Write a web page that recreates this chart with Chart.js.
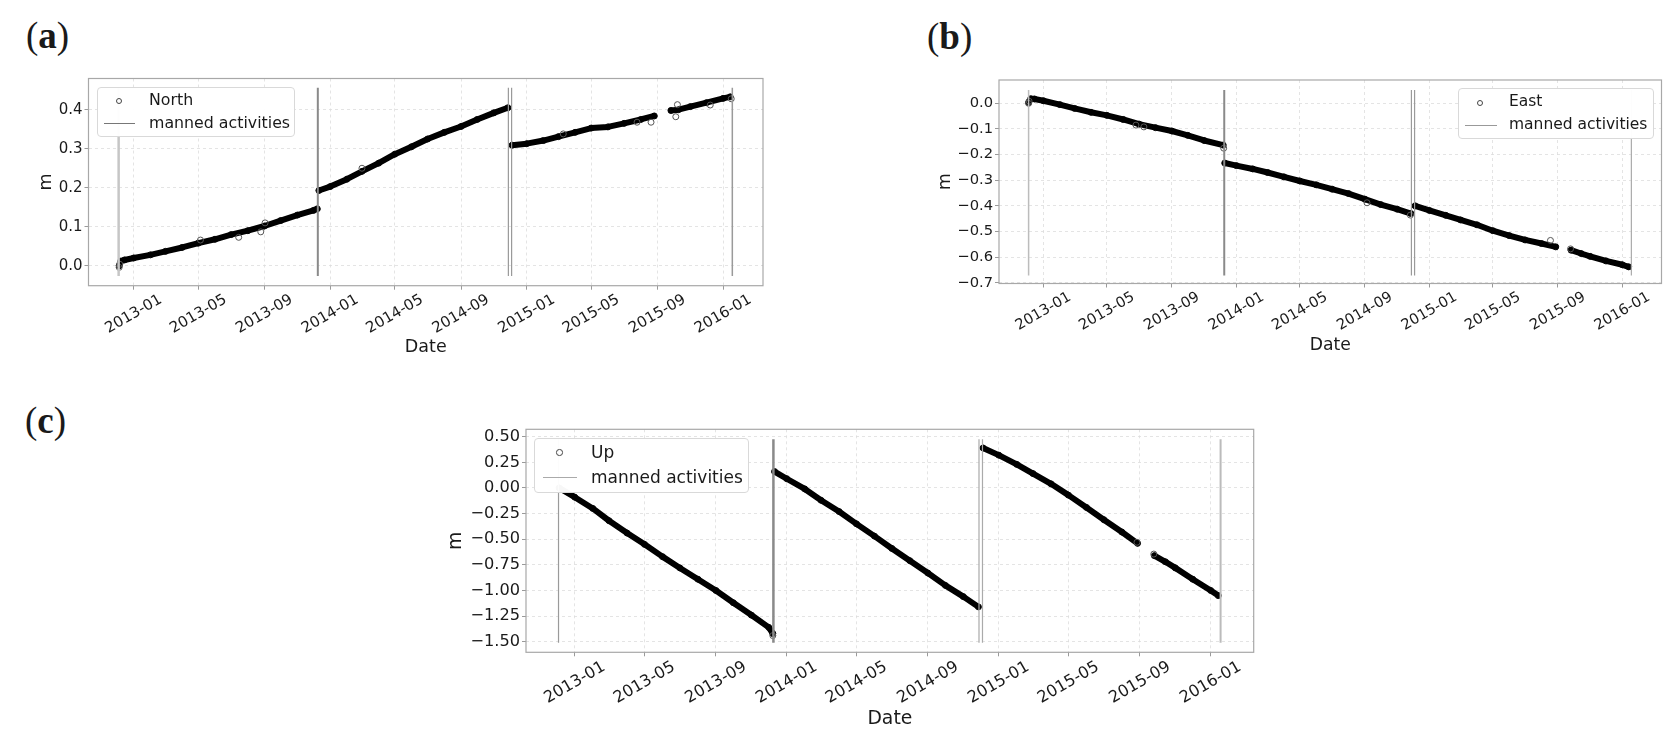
<!DOCTYPE html>
<html>
<head>
<meta charset="utf-8">
<script src="https://cdn.jsdelivr.net/npm/chart.js@4.4.0/dist/chart.umd.min.js"></script>
<style>
  body { margin: 0; background: #fff; }
  #page { position: relative; width: 1677px; height: 741px; overflow: hidden; font-family: "DejaVu Sans", sans-serif; color: #1a1a1a; }
  canvas { position: absolute; }
  .panel-label { position: absolute; font-family: "Liberation Serif", serif; font-size: 37px; line-height: 1; }
  .legend { position: absolute; background: rgba(255,255,255,0.97); border: 1px solid #d9d9d9; border-radius: 4px; box-sizing: border-box; }
  .legend .mk { position: absolute; border: 1px solid #444; border-radius: 50%; box-sizing: border-box; }
  .legend .ln { position: absolute; height: 0; }
  .legend .tx { position: absolute; white-space: nowrap; line-height: 1; transform: translateY(-50%); }
</style>
</head>
<body>
<div id="page">
  <div class="panel-label" style="left:26px;top:17px">(<b>a</b>)</div>
  <div class="panel-label" style="left:927px;top:18px">(<b>b</b>)</div>
  <div class="panel-label" style="left:25px;top:402px">(<b>c</b>)</div>

  <canvas id="north" width="790" height="372" style="left:0;top:0"></canvas>
  <canvas id="east" width="777" height="372" style="left:900px;top:0"></canvas>
  <canvas id="up" width="880" height="361" style="left:400px;top:380px"></canvas>

  <div class="legend" style="left:97px;top:87px;width:198px;height:50px;font-size:15.8px">
    <div class="mk" style="left:18px;top:10px;width:6px;height:6px"></div>
    <div class="tx" style="left:51px;top:12px">North</div>
    <div class="ln" style="left:6px;top:35px;width:31px;border-top:1.5px solid #777"></div>
    <div class="tx" style="left:51px;top:35px">manned activities</div>
  </div>
  <div class="legend" style="left:1458px;top:88px;width:196px;height:51px;font-size:15.5px">
    <div class="mk" style="left:18px;top:11px;width:6px;height:6px"></div>
    <div class="tx" style="left:50px;top:13px">East</div>
    <div class="ln" style="left:6px;top:36px;width:32px;border-top:1.5px solid #999"></div>
    <div class="tx" style="left:50px;top:36px">manned activities</div>
  </div>
  <div class="legend" style="left:534px;top:438px;width:215px;height:55px;font-size:17px">
    <div class="mk" style="left:21px;top:10px;width:6.5px;height:6.5px"></div>
    <div class="tx" style="left:56px;top:13px">Up</div>
    <div class="ln" style="left:8px;top:38px;width:34px;border-top:1.5px solid #aaa"></div>
    <div class="tx" style="left:56px;top:38px">manned activities</div>
  </div>
</div>

<script>
// shared axis data
const dateRange = ['2012-10-09', '2016-03-15'];
const xTickLabels = ['2013-01', '2013-05', '2013-09', '2014-01', '2014-05', '2014-09', '2015-01', '2015-05', '2015-09', '2016-01'];
const mannedDates = ['2012-12-04', '2013-12-09', '2014-11-28', '2014-12-04', '2016-01-18'];

// (a) North
const northDates = [
    '2012-12-05', '2012-12-08', '2012-12-15', '2013-01-01', '2013-02-01', '2013-03-01', '2013-04-01', '2013-05-01',
    '2013-06-01', '2013-07-01', '2013-08-01', '2013-09-01', '2013-10-01', '2013-11-01', '2013-12-01', '2013-12-08',
    '2013-12-09',
    '2013-12-11', '2014-01-01', '2014-02-01', '2014-03-01', '2014-04-01', '2014-05-01', '2014-06-01', '2014-07-01',
    '2014-08-01', '2014-09-01', '2014-10-01', '2014-11-01', '2014-11-27',
    '2014-12-01',
    '2014-12-05', '2015-01-01', '2015-02-01', '2015-03-01', '2015-04-01', '2015-05-01', '2015-06-01', '2015-07-01',
    '2015-08-01', '2015-08-26',
    '2015-09-12',
    '2015-09-26', '2015-10-10', '2015-11-01', '2015-12-01', '2016-01-01', '2016-01-14'
];
const northValues = [
    0.000, 0.012, 0.015, 0.020, 0.028, 0.037, 0.047, 0.058,
    0.068, 0.080, 0.090, 0.102, 0.116, 0.130, 0.142, 0.146,
    null,
    0.193, 0.203, 0.222, 0.242, 0.263, 0.286, 0.305, 0.325,
    0.342, 0.357, 0.375, 0.392, 0.405,
    null,
    0.309, 0.313, 0.321, 0.331, 0.342, 0.353, 0.356, 0.365,
    0.375, 0.384,
    null,
    0.398, 0.400, 0.408, 0.418, 0.429, 0.433
];
const northOutlierDates = ['2012-12-05', '2012-12-06', '2013-05-05', '2013-07-15', '2013-08-25', '2013-09-02', '2014-03-01',
    '2015-03-10', '2015-07-25', '2015-08-20', '2015-10-05', '2015-10-08', '2015-12-08', '2016-01-16'];
const northOutlierValues = [-0.004, 0.004, 0.066, 0.073, 0.087, 0.110, 0.250, 0.338, 0.368, 0.368, 0.382, 0.413, 0.412, 0.428];
const northTicks = [0.0, 0.1, 0.2, 0.3, 0.4];
const northTickLabels = ['0.0', '0.1', '0.2', '0.3', '0.4'];
const northRange = [-0.051, 0.48];
const northLineRange = [-0.026, 0.456];

// (b) East
const eastDates = [
    '2012-12-04', '2012-12-08', '2012-12-15', '2013-01-01', '2013-02-01', '2013-03-01', '2013-04-01', '2013-05-01',
    '2013-06-01', '2013-07-01', '2013-08-01', '2013-09-01', '2013-10-01', '2013-11-01', '2013-12-07',
    '2013-12-09',
    '2013-12-10', '2014-01-01', '2014-02-01', '2014-03-01', '2014-04-01', '2014-05-01', '2014-06-01', '2014-07-01',
    '2014-08-01', '2014-09-01', '2014-10-01', '2014-11-01', '2014-11-27',
    '2014-12-01',
    '2014-12-05', '2015-01-01', '2015-02-01', '2015-03-01', '2015-04-01', '2015-05-01', '2015-06-01', '2015-07-01',
    '2015-08-01', '2015-08-28',
    '2015-09-12',
    '2015-09-26', '2015-10-15', '2015-11-01', '2015-12-01', '2016-01-01', '2016-01-13'
];
const eastValues = [
    0.003, 0.018, 0.017, 0.010, -0.005, -0.020, -0.035, -0.047,
    -0.063, -0.081, -0.095, -0.108, -0.125, -0.145, -0.163,
    null,
    -0.233, -0.243, -0.256, -0.270, -0.287, -0.303, -0.318, -0.335,
    -0.352, -0.374, -0.395, -0.413, -0.430,
    null,
    -0.400, -0.418, -0.437, -0.455, -0.474, -0.497, -0.516, -0.533,
    -0.547, -0.560,
    null,
    -0.573, -0.586, -0.597, -0.615, -0.630, -0.638
];
const eastOutlierDates = ['2012-12-04', '2012-12-05', '2013-06-25', '2013-07-10', '2013-12-08', '2014-09-05', '2014-11-26', '2015-08-18', '2015-09-25'];
const eastOutlierValues = [0.000, 0.008, -0.085, -0.092, -0.175, -0.388, -0.436, -0.535, -0.568];
const eastTicks = [0.0, -0.1, -0.2, -0.3, -0.4, -0.5, -0.6, -0.7];
const eastTickLabels = ['0.0', '\u22120.1', '\u22120.2', '\u22120.3', '\u22120.4', '\u22120.5', '\u22120.6', '\u22120.7'];
const eastRange = [-0.703, 0.091];
const eastLineRange = [-0.672, 0.052];

// (c) Up
const upDates = [
    '2012-12-05', '2013-01-01', '2013-02-01', '2013-03-01', '2013-04-01', '2013-05-01', '2013-06-01', '2013-07-01',
    '2013-08-01', '2013-09-01', '2013-10-01', '2013-11-01', '2013-12-01', '2013-12-08',
    '2013-12-09',
    '2013-12-11', '2014-01-01', '2014-02-01', '2014-03-01', '2014-04-01', '2014-05-01', '2014-06-01', '2014-07-01',
    '2014-08-01', '2014-09-01', '2014-10-01', '2014-11-01', '2014-11-27',
    '2014-12-01',
    '2014-12-05', '2015-01-01', '2015-02-01', '2015-03-01', '2015-04-01', '2015-05-01', '2015-06-01', '2015-07-01',
    '2015-08-01', '2015-08-28',
    '2015-09-12',
    '2015-09-26', '2015-10-15', '2015-11-01', '2015-12-01', '2016-01-01', '2016-01-14'
];
const upValues = [
    0.00, -0.09, -0.20, -0.32, -0.44, -0.55, -0.67, -0.78,
    -0.89, -1.00, -1.12, -1.24, -1.36, -1.42,
    null,
    0.16, 0.09, -0.01, -0.12, -0.23, -0.35, -0.47, -0.59,
    -0.71, -0.83, -0.95, -1.06, -1.16,
    null,
    0.39, 0.32, 0.23, 0.14, 0.04, -0.07, -0.19, -0.31,
    -0.43, -0.54,
    null,
    -0.66, -0.72, -0.78, -0.89, -1.00, -1.05
];
const upOutlierDates = ['2013-12-08', '2015-08-27', '2015-09-25'];
const upOutlierValues = [-1.44, -0.53, -0.645];
const upTicks = [0.5, 0.25, 0.0, -0.25, -0.5, -0.75, -1.0, -1.25, -1.5];
const upTickLabels = ['0.50', '0.25', '0.00', '\u22120.25', '\u22120.50', '\u22120.75', '\u22121.00', '\u22121.25', '\u22121.50'];
const upRange = [-1.603, 0.572];
const upLineRange = [-1.51, 0.475];

const t = d => Date.parse(d);
const textColor = '#1a1a1a';

const framePlugin = {
    id: 'frame',
    afterDraw(chart) {
        const {ctx, chartArea: a} = chart;
        ctx.save();
        ctx.strokeStyle = '#a8a8a8';
        ctx.lineWidth = 1.2;
        ctx.strokeRect(a.left, a.top, a.right - a.left, a.bottom - a.top);
        ctx.restore();
    }
};

function makePanel(p) {
    const datasets = [];

    // vertical lines of the manned activities
    mannedDates.forEach((d, i) => {
        datasets.push({
            data: [{x: t(d), y: p.lineRange[0]}, {x: t(d), y: p.lineRange[1]}],
            borderColor: p.lineStyles[i][0],
            borderWidth: p.lineStyles[i][1],
            pointRadius: 0
        });
    });

    datasets.push({
        data: p.outDates.map((d, i) => ({x: t(d), y: p.outValues[i]})),
        showLine: false,
        pointRadius: 3,
        pointBorderWidth: 1,
        pointBorderColor: '#555',
        pointBackgroundColor: 'rgba(0,0,0,0)'
    });

    datasets.push({
        data: p.dates.map((d, i) => ({x: t(d), y: p.values[i]})),
        borderColor: '#000',
        borderWidth: 6,
        borderJoinStyle: 'round',
        borderCapStyle: 'round',
        spanGaps: false,
        pointRadius: 3,
        pointBorderWidth: 1,
        pointBorderColor: '#000',
        pointBackgroundColor: 'rgba(0,0,0,0)'
    });

    const a = p.area;
    const tickFont = {family: 'DejaVu Sans', size: p.tickSize};
    const labelFont = {family: 'DejaVu Sans', size: p.labelSize};
    const half = p.labelSize * 1.2 / 2;

    new Chart(document.getElementById(p.id), {
        type: 'line',
        data: {datasets},
        options: {
            responsive: false,
            animation: false,
            events: [],
            layout: {
                autoPadding: false,
                padding: {left: 0, top: a.y0 - p.top, right: p.left + p.width - a.x1, bottom: 0}
            },
            plugins: {legend: {display: false}, tooltip: {enabled: false}},
            scales: {
                x: {
                    type: 'linear',
                    min: t(dateRange[0]),
                    max: t(dateRange[1]),
                    afterBuildTicks: s => { s.ticks = xTickLabels.map(l => ({value: t(l + '-01')})); },
                    afterFit: s => { s.height = p.top + p.height - a.y1; },
                    ticks: {
                        autoSkip: false,
                        minRotation: 30,
                        maxRotation: 30,
                        padding: 1,
                        labelOffset: 0.866 * 4.18 * p.tickSize / 2,
                        color: textColor,
                        font: tickFont,
                        callback: (v, i) => xTickLabels[i]
                    },
                    grid: {color: '#dedede', lineWidth: 0.8, tickLength: 4, tickColor: '#9a9a9a', tickWidth: 1},
                    border: {display: false, dash: [3, 3]},
                    title: {display: true, text: 'Date', color: textColor, font: labelFont,
                        padding: {top: 0, bottom: (p.top + p.height - p.dateY) - half}}
                },
                y: {
                    type: 'linear',
                    min: p.yRange[0],
                    max: p.yRange[1],
                    afterBuildTicks: s => { s.ticks = p.yTicks.map(v => ({value: v})); },
                    afterFit: s => { s.width = a.x0 - p.left; },
                    ticks: {
                        padding: 2,
                        color: textColor,
                        font: tickFont,
                        callback: (v, i) => p.yTickLabels[i]
                    },
                    grid: {color: '#dedede', lineWidth: 0.8, tickLength: 4, tickColor: '#9a9a9a', tickWidth: 1},
                    border: {display: false, dash: [3, 3]},
                    title: {display: true, text: 'm', color: textColor, font: labelFont,
                        padding: {top: (p.mX - p.left) - half, bottom: 0}}
                }
            }
        },
        plugins: [framePlugin]
    });
}

makePanel({
    id: 'north', left: 0, top: 0, width: 790, height: 372,
    area: {x0: 88.5, x1: 763, y0: 78.5, y1: 285.7},
    mX: 46.5, dateY: 347,
    tickSize: 15, labelSize: 17.5,
    dates: northDates, values: northValues,
    outDates: northOutlierDates, outValues: northOutlierValues,
    yTicks: northTicks, yTickLabels: northTickLabels, yRange: northRange,
    lineRange: northLineRange,
    lineStyles: [['#c6c6c6', 2.5], ['#8a8a8a', 2], ['#9a9a9a', 1.2], ['#9a9a9a', 1.2], ['#9a9a9a', 1.5]]
});

makePanel({
    id: 'east', left: 900, top: 0, width: 777, height: 372,
    area: {x0: 999, x1: 1661.5, y0: 80, y1: 283.5},
    mX: 946, dateY: 345.5,
    tickSize: 14.7, labelSize: 17.2,
    dates: eastDates, values: eastValues,
    outDates: eastOutlierDates, outValues: eastOutlierValues,
    yTicks: eastTicks, yTickLabels: eastTickLabels, yRange: eastRange,
    lineRange: eastLineRange,
    lineStyles: [['#bcbcbc', 1.5], ['#8a8a8a', 2], ['#9a9a9a', 1.2], ['#9a9a9a', 1.2], ['#aaaaaa', 1.2]]
});

makePanel({
    id: 'up', left: 400, top: 380, width: 880, height: 361,
    area: {x0: 526, x1: 1253.7, y0: 429.3, y1: 652.3},
    mX: 456, dateY: 719,
    tickSize: 16.2, labelSize: 18.8,
    dates: upDates, values: upValues,
    outDates: upOutlierDates, outValues: upOutlierValues,
    yTicks: upTicks, yTickLabels: upTickLabels, yRange: upRange,
    lineRange: upLineRange,
    lineStyles: [['#9a9a9a', 1.2], ['#8a8a8a', 2.5], ['#aaaaaa', 1.2], ['#aaaaaa', 1.2], ['#bbbbbb', 2]]
});
</script>
</body>
</html>
